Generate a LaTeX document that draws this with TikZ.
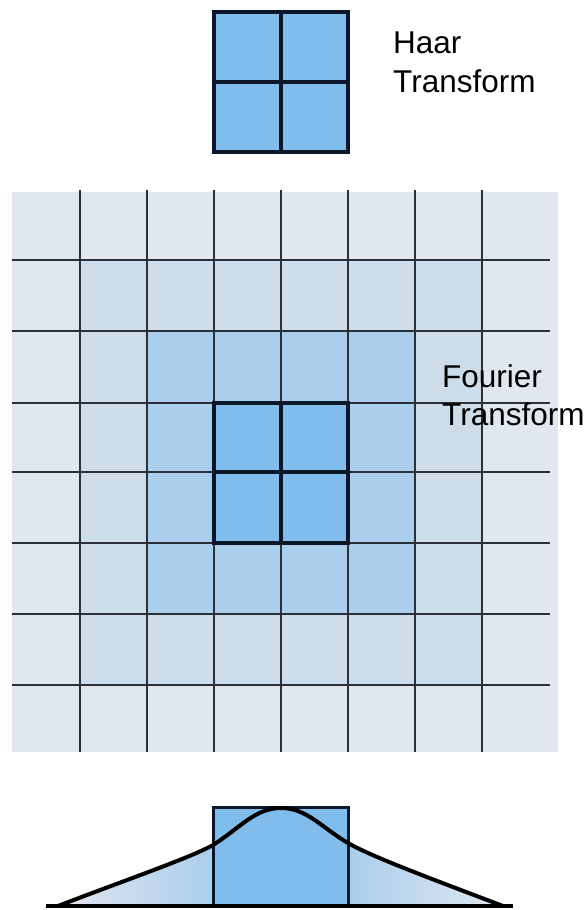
\documentclass[tikz,border=0pt]{standalone}
\usepackage{fontspec}
\setmainfont{Liberation Sans}
\definecolor{ringA}{HTML}{E1E7EF}
\definecolor{ringB}{HTML}{CCDDE9}
\definecolor{ringC}{HTML}{AACEEC}
\definecolor{ringD}{HTML}{80BDEC}
\definecolor{gridline}{HTML}{2A2F38}
\definecolor{boldline}{HTML}{0B1628}
\tikzset{
  gridln/.style={draw=gridline, line width=2pt},
  boldln/.style={draw=boldline, line width=3.6pt},
  lbl/.style={anchor=base west, inner sep=0pt, font=\fontsize{31.5}{39}\selectfont, text=black},
}
\begin{document}
\begin{tikzpicture}[x=1pt,y=-1pt]
\useasboundingbox (0,0) rectangle (588,910);
% ---------- Haar ----------
\fill[ringD] (214,12) rectangle (348,152);
\draw[boldln] (214,12) rectangle (348,152);
\draw[boldln] (281,12) -- (281,152);
\draw[boldln] (214,82) -- (348,82);
\node[lbl] (haarA) at (393,53) {Haar};
\node[lbl] (haarB) at (393,92) {Transform};
% ---------- Fourier grid ----------
\def\xs{{12,80,147,214,281,348,415,482,558}}
\def\ys{{192,260,331,403,472,543,614,685,752}}
\foreach \i in {0,...,7}{
  \foreach \j in {0,...,7}{
    \pgfmathtruncatemacro{\ra}{min(min(\i,7-\i),min(\j,7-\j))}
    \pgfmathsetmacro{\xa}{\xs[\i]}
    \pgfmathsetmacro{\xb}{\xs[\i+1]}
    \pgfmathsetmacro{\ya}{\ys[\j]}
    \pgfmathsetmacro{\yb}{\ys[\j+1]}
    \ifcase\ra
      \fill[ringA] (\xa,\ya) rectangle (\xb,\yb);
    \or
      \fill[ringB] (\xa,\ya) rectangle (\xb,\yb);
    \or
      \fill[ringC] (\xa,\ya) rectangle (\xb,\yb);
    \else
      \fill[ringD] (\xa,\ya) rectangle (\xb,\yb);
    \fi
  }
}
\foreach \x in {80,147,214,281,348,415,482}{
  \draw[gridln] (\x,190) -- (\x,752);
}
\foreach \y in {260,331,403,472,543,614,685}{
  \draw[gridln] (12,\y) -- (550,\y);
}
\draw[boldln] (214,403) rectangle (348,543);
\draw[boldln] (281,403) -- (281,543);
\draw[boldln] (214,472) -- (348,472);
\node[lbl] (fourA) at (442,387) {Fourier};
\node[lbl] (fourB) at (442,425) {Transform};
% ---------- bottom profile ----------
\begin{scope}
  \clip (58,906) .. controls (120,882) and (190,858) .. (213,845)
        .. controls (240,828) and (255,808) .. (281,808)
        .. controls (307,808) and (322,828) .. (348,843)
        .. controls (372,857) and (440,882) .. (503,906) -- cycle;
  \shade[left color=ringA, right color=ringC] (58,800) rectangle (213,906);
  \shade[left color=ringC, right color=ringA] (348,800) rectangle (503,906);
\end{scope}
\fill[ringD] (213,807) rectangle (348,906);
\draw[boldln, line width=3pt] (213,807) rectangle (348,906);
\draw[line width=4pt, line cap=round, line join=round, black]
  (58,906) .. controls (120,882) and (190,858) .. (213,845)
        .. controls (240,828) and (255,808) .. (281,808)
        .. controls (307,808) and (322,828) .. (348,843)
        .. controls (372,857) and (440,882) .. (503,906);
\draw[line width=4pt, black] (46,906) -- (513,906);
\end{tikzpicture}
\end{document}
